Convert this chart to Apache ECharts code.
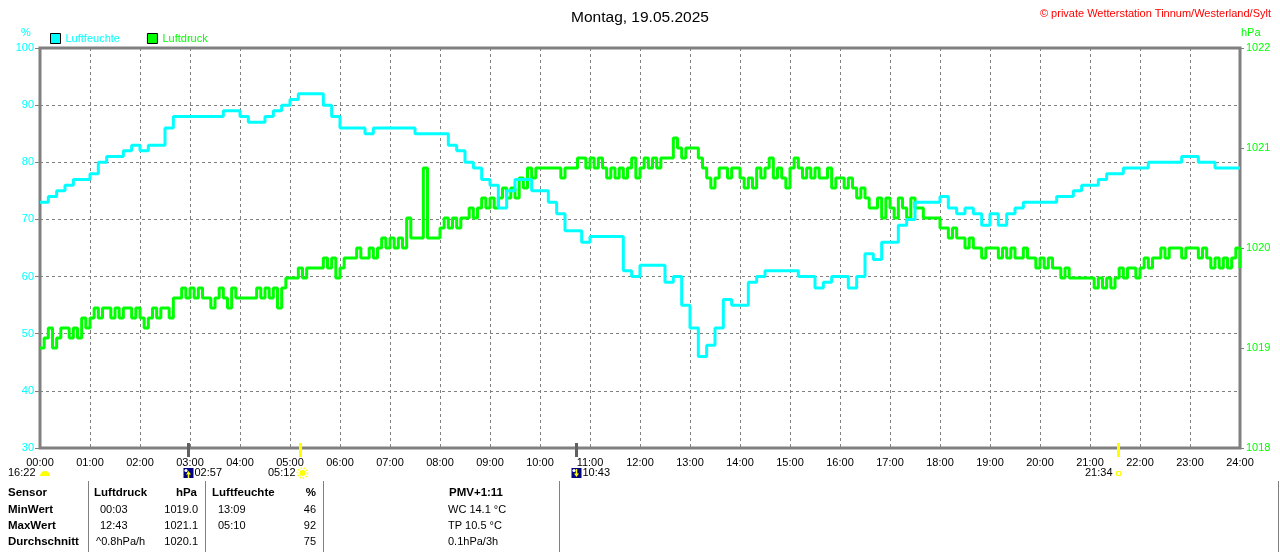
<!DOCTYPE html>
<html>
<head>
<meta charset="utf-8">
<title>Luftfeuchte / Luftdruck 19.05.2025</title>
<script src="https://cdn.jsdelivr.net/npm/echarts@6/dist/echarts.min.js"></script>
<style>
  html, body { margin: 0; padding: 0; background: #fff; }
  #chart { width: 1280px; height: 552px; }
</style>
</head>
<body>
<div id="chart"></div>
<script>
var FONT = '"Liberation Sans", Arial, sans-serif';

// x-achse: stunden
var hourLabels = ['00:00','01:00','02:00','03:00','04:00','05:00','06:00','07:00','08:00','09:00',
  '10:00','11:00','12:00','13:00','14:00','15:00','16:00','17:00','18:00','19:00',
  '20:00','21:00','22:00','23:00','24:00'];

// luftfeuchte (%), alle 10 minuten ab 00:00
var humStep = 10;
var humidity = [
  73,74,75,76,77,77,  78,80,81,81,82,83,  82,83,83,86,88,88,  88,88,88,88,89,89,
  88,87,87,88,89,90,  91,92,92,92,90,88,  86,86,86,85,86,86,  86,86,86,85,85,85,
  85,83,82,80,79,77,  76,72,75,77,77,75,  75,73,71,68,68,66,  67,67,67,67,61,60,
  62,62,62,59,60,55,  51,46,48,51,56,55,  55,59,60,61,61,61,  61,60,60,58,59,60,
  60,58,60,64,63,66,  66,69,70,73,73,73,  74,72,71,72,71,69,  71,69,71,72,73,73,
  73,73,74,74,75,76,  76,77,78,78,79,79,  79,80,80,80,80,81,  81,80,80,79,79,79,
  79
];

// luftdruck (hPa), alle 5 minuten ab 00:00
var presStep = 5;
var pressure = [
  1019.0,1019.1,1019.2,1019.0,1019.1,1019.2,1019.2,1019.1,1019.2,1019.1,1019.3,1019.2,
  1019.3,1019.4,1019.3,1019.4,1019.4,1019.3,1019.4,1019.3,1019.4,1019.4,1019.3,1019.4,
  1019.3,1019.2,1019.3,1019.4,1019.3,1019.4,1019.4,1019.3,1019.5,1019.5,1019.6,1019.5,
  1019.6,1019.5,1019.6,1019.5,1019.5,1019.4,1019.5,1019.6,1019.5,1019.4,1019.6,1019.5,
  1019.5,1019.5,1019.5,1019.5,1019.6,1019.5,1019.6,1019.5,1019.6,1019.4,1019.6,1019.7,
  1019.7,1019.7,1019.8,1019.7,1019.8,1019.8,1019.8,1019.8,1019.9,1019.8,1019.9,1019.7,
  1019.8,1019.9,1019.9,1019.9,1020.0,1019.9,1019.9,1020.0,1019.9,1020.0,1020.1,1020.0,
  1020.1,1020.0,1020.1,1020.0,1020.3,1020.1,1020.1,1020.1,1020.8,1020.1,1020.1,1020.1,
  1020.2,1020.3,1020.2,1020.3,1020.2,1020.3,1020.3,1020.4,1020.3,1020.4,1020.5,1020.4,
  1020.5,1020.4,1020.5,1020.6,1020.5,1020.6,1020.5,1020.7,1020.6,1020.8,1020.7,1020.8,
  1020.8,1020.8,1020.8,1020.8,1020.8,1020.7,1020.8,1020.8,1020.8,1020.9,1020.9,1020.8,
  1020.9,1020.8,1020.9,1020.8,1020.7,1020.8,1020.7,1020.8,1020.7,1020.8,1020.9,1020.7,
  1020.8,1020.9,1020.8,1020.9,1020.8,1020.9,1020.9,1020.9,1021.1,1021.0,1020.9,1021.0,
  1021.0,1021.0,1020.9,1020.8,1020.7,1020.6,1020.7,1020.8,1020.8,1020.7,1020.8,1020.8,
  1020.7,1020.6,1020.7,1020.6,1020.8,1020.7,1020.8,1020.9,1020.7,1020.8,1020.7,1020.6,
  1020.8,1020.9,1020.8,1020.7,1020.8,1020.7,1020.8,1020.7,1020.7,1020.8,1020.6,1020.7,
  1020.7,1020.6,1020.7,1020.6,1020.5,1020.6,1020.5,1020.4,1020.4,1020.5,1020.3,1020.5,
  1020.4,1020.3,1020.5,1020.4,1020.3,1020.5,1020.4,1020.4,1020.3,1020.3,1020.3,1020.3,
  1020.2,1020.2,1020.1,1020.2,1020.1,1020.1,1020.0,1020.1,1020.0,1020.0,1019.9,1020.0,
  1020.0,1020.0,1019.9,1020.0,1019.9,1020.0,1019.9,1019.9,1020.0,1019.9,1019.9,1019.8,
  1019.9,1019.8,1019.9,1019.8,1019.8,1019.7,1019.8,1019.7,1019.7,1019.7,1019.7,1019.7,
  1019.7,1019.6,1019.7,1019.6,1019.7,1019.6,1019.7,1019.8,1019.7,1019.8,1019.8,1019.7,
  1019.8,1019.9,1019.8,1019.9,1019.9,1020.0,1019.9,1020.0,1020.0,1020.0,1019.9,1020.0,
  1020.0,1020.0,1019.9,1020.0,1019.9,1019.8,1019.9,1019.8,1019.9,1019.8,1019.9,1020.0,
  1019.8
];

// sonne / mond auf- und untergang
var astroTimes = ['02:57', '05:12', '10:43', '21:34'];
var astroKinds = ['moonrise', 'sunrise', 'moonset', 'sunset'];
var prevAstroTime = '16:22';

// tabelle unten
var tableHead = ['Sensor', 'Luftdruck', 'hPa', 'Luftfeuchte', '%', 'PMV+1:11'];
var rowNames = ['MinWert', 'MaxWert', 'Durchschnitt'];
var presTimes = ['00:03', '12:43', '^0.8hPa/h'];
var presVals = ['1019.0', '1021.1', '1020.1'];
var humTimes = ['13:09', '05:10', ''];
var humVals = ['46', '92', '75'];
var extraInfo = ['WC 14.1 \u00b0C', 'TP 10.5 \u00b0C', '0.1hPa/3h'];

function toMin(s) {
  var p = s.split(':');
  return parseInt(p[0], 10) * 60 + parseInt(p[1], 10);
}

var chart = echarts.init(document.getElementById('chart'));
var gridLine = { lineStyle: { color: '#808080', type: [3, 3], width: 1 } };

var option = {
  animation: false,
  backgroundColor: '#fff',
  textStyle: { fontFamily: FONT },
  title: [
    { text: 'Montag, 19.05.2025', left: 'center', top: 5,
      textStyle: { fontSize: 15.5, fontWeight: 'normal', color: '#000', fontFamily: FONT } },
    { text: '\u00a9 private Wetterstation Tinnum/Westerland/Sylt', right: 4, top: 3,
      textStyle: { fontSize: 11, fontWeight: 'normal', color: '#ff0000', fontFamily: FONT } }
  ],
  legend: {
    left: 50, top: 33, padding: 0,
    itemWidth: 10, itemHeight: 10, itemGap: 27,
    icon: 'rect',
    itemStyle: { borderColor: '#000', borderWidth: 1 },
    lineStyle: { opacity: 0 },
    textStyle: { fontSize: 11, fontFamily: FONT },
    data: [
      { name: 'Luftfeuchte', textStyle: { color: '#00ffff' } },
      { name: 'Luftdruck', textStyle: { color: '#00ff00' } }
    ]
  },
  grid: { left: 40, right: 40, top: 48, bottom: 104, show: true, borderColor: '#808080', borderWidth: 3 },
  xAxis: {
    type: 'value', min: 0, max: 1440, interval: 60,
    axisLine: { show: false }, axisTick: { show: false },
    splitLine: gridLine,
    axisLabel: {
      color: '#000', fontSize: 11, margin: 9, fontFamily: FONT,
      formatter: function (v) { return hourLabels[v / 60]; }
    }
  },
  yAxis: [
    { type: 'value', min: 30, max: 100, interval: 10, position: 'left',
      axisLine: { show: false },
      axisTick: { show: true, length: 5, lineStyle: { color: '#808080' } },
      splitLine: gridLine,
      axisLabel: { color: '#00ffff', fontSize: 11, margin: 6, fontFamily: FONT } },
    { type: 'value', min: 1018, max: 1022, interval: 1, position: 'right',
      axisLine: { show: false },
      axisTick: { show: true, length: 4, lineStyle: { color: '#808080' } },
      splitLine: { show: false },
      axisLabel: { color: '#00ff00', fontSize: 11, margin: 6, fontFamily: FONT,
        formatter: function (v) { return String(v); } } }
  ],
  series: [
    { name: 'Luftdruck', type: 'line', yAxisIndex: 1, step: 'end', showSymbol: false,
      lineStyle: { color: '#00ff00', width: 3 }, itemStyle: { color: '#00ff00' },
      data: pressure.map(function (v, i) { return [i * presStep, v]; }) },
    { name: 'Luftfeuchte', type: 'line', yAxisIndex: 0, step: 'end', showSymbol: false,
      lineStyle: { color: '#00ffff', width: 3 }, itemStyle: { color: '#00ffff' },
      data: humidity.map(function (v, i) { return [i * humStep, v]; }) }
  ]
};
chart.setOption(option);

// zusatzgrafik: einheiten, astro-markierungen, tabelle
function txt(x, y, s, opt) {
  opt = opt || {};
  return { type: 'text', x: x, y: y, silent: true,
    style: { text: s, fill: opt.color || '#000', align: opt.align || 'left', verticalAlign: 'middle',
      font: (opt.bold ? 'bold ' : '') + (opt.size || 11) + 'px ' + FONT } };
}

var g = [];
g.push(txt(26, 33, '%', { color: '#00ffff', align: 'center' }));
g.push(txt(1241, 33, 'hPa', { color: '#00ff00' }));

// vortag
g.push(txt(8, 473, prevAstroTime));
g.push({ type: 'sector', silent: true, shape: { cx: 45, cy: 476, r: 5, startAngle: Math.PI, endAngle: Math.PI * 2 },
  style: { fill: '#ffff00' } });

astroTimes.forEach(function (t, i) {
  var px = Math.round(chart.convertToPixel({ xAxisIndex: 0 }, toMin(t))) + 0.5;
  var kind = astroKinds[i];
  var isSun = kind.indexOf('sun') === 0;
  g.push({ type: 'line', silent: true, shape: { x1: px, y1: 443, x2: px, y2: 457 },
    style: { stroke: isSun ? '#ffff00' : '#606060', lineWidth: 3 } });
  if (!isSun) {
    g.push({ type: 'rect', silent: true, shape: { x: px - 5, y: 468, width: 10, height: 10 }, style: { fill: '#000080' } });
    g.push({ type: 'circle', silent: true, shape: { cx: px - 2.5, cy: 470.5, r: 1.6 }, style: { fill: '#fff' } });
    var up = kind === 'moonrise';
    g.push({ type: 'polygon', silent: true,
      shape: { points: up ? [[px, 471], [px - 2.5, 474.5], [px + 2.5, 474.5]] : [[px, 477], [px - 2.5, 473.5], [px + 2.5, 473.5]] },
      style: { fill: '#ffff00' } });
    g.push({ type: 'line', silent: true, shape: up ? { x1: px, y1: 474, x2: px, y2: 478 } : { x1: px, y1: 469, x2: px, y2: 474 },
      style: { stroke: '#ffff00', lineWidth: 1.5 } });
    g.push(txt(px + 6, 473, t));
  } else if (kind === 'sunrise') {
    g.push({ type: 'circle', silent: true, shape: { cx: px + 2, cy: 473, r: 3 }, style: { fill: '#ffff00' } });
    g.push({ type: 'circle', silent: true, shape: { cx: px + 2, cy: 473, r: 5 },
      style: { fill: 'none', stroke: '#ffff00', lineWidth: 1.5, lineDash: [1.5, 1.5] } });
    g.push(txt(px - 5, 473, t, { align: 'right' }));
  } else {
    g.push({ type: 'rect', silent: true, shape: { x: px - 2, y: 471.5, width: 4, height: 4 },
      style: { fill: 'none', stroke: '#ffff00', lineWidth: 1 } });
    g.push(txt(px - 6, 473, t, { align: 'right' }));
  }
});

// tabellenlinien
[88.5, 205.5, 323.5, 559.5, 1278.5].forEach(function (x) {
  g.push({ type: 'line', silent: true, shape: { x1: x, y1: 481, x2: x, y2: 552 }, style: { stroke: '#808080', lineWidth: 1 } });
});

var headY = 493, rowY = [509.5, 525.5, 541.5];
g.push(txt(8, headY, tableHead[0], { bold: true, size: 11.5 }));
g.push(txt(94, headY, tableHead[1], { bold: true, size: 11.5 }));
g.push(txt(197, headY, tableHead[2], { bold: true, size: 11.5, align: 'right' }));
g.push(txt(212, headY, tableHead[3], { bold: true, size: 11.5 }));
g.push(txt(316, headY, tableHead[4], { bold: true, size: 11.5, align: 'right' }));
g.push(txt(449, headY, tableHead[5], { bold: true, size: 11.5 }));
rowNames.forEach(function (n, i) {
  var y = rowY[i];
  g.push(txt(8, y, n, { bold: true, size: 11.5 }));
  g.push(txt(i === 2 ? 96 : 100, y, presTimes[i]));
  g.push(txt(198, y, presVals[i], { align: 'right' }));
  g.push(txt(218, y, humTimes[i]));
  g.push(txt(316, y, humVals[i], { align: 'right' }));
  g.push(txt(448, y, extraInfo[i]));
});

chart.setOption({ graphic: { elements: g } });
</script>
</body>
</html>
